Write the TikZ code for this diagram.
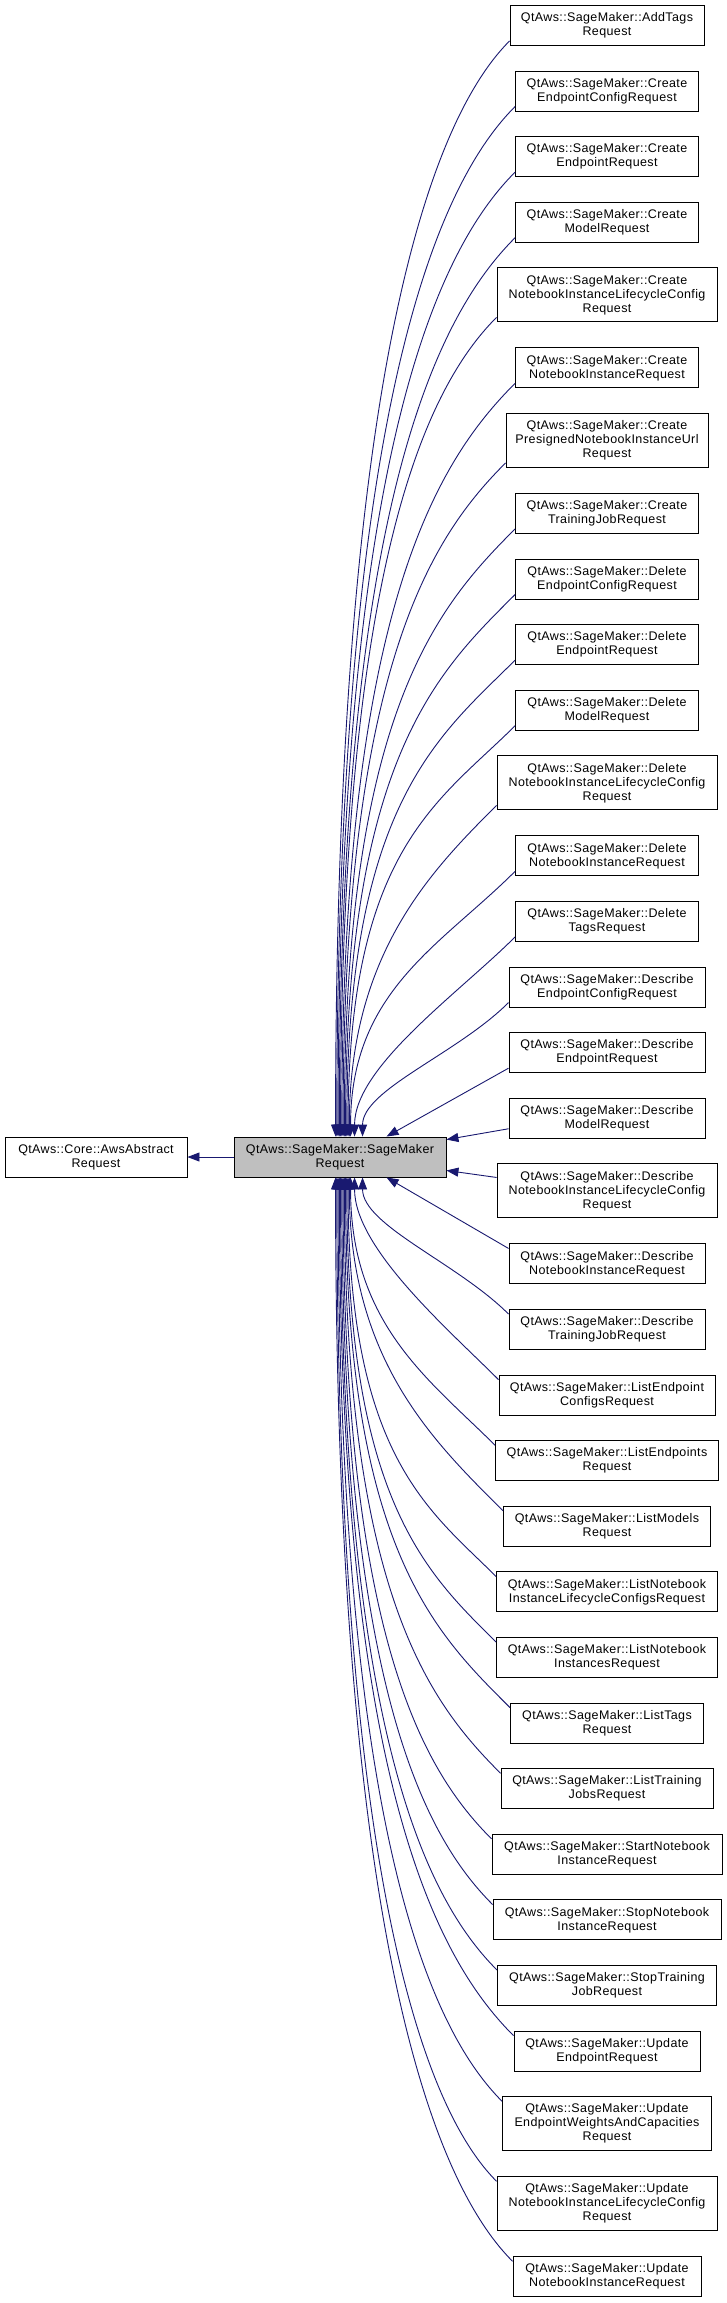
\documentclass[tikz,border=0pt]{standalone}
\usepackage{fontspec}
\setmainfont{Liberation Sans}[LetterSpace=3,Ligatures=NoCommon]
\usetikzlibrary{arrows.meta,calc}
\definecolor{edgecol}{HTML}{191970}
\definecolor{pfill}{HTML}{BFBFBF}
% #1 child, #2 offset on parent, #3 start-control factor, #4 end-control position
\newcommand\upe[4]{\draw[inh] let \p1=($(#1.south west)+(0,-5)$), \p2=($(P.north west)+(#2,0)$) in
  (\p1) .. controls ({\x1-#3*(\x1-\x2)}, {\y1-#3*(\x1-\x2)}) and (\x2, {\y1-#4*(\y1-\y2)}) .. (\p2);}
\newcommand\dne[4]{\draw[inh] let \p1=($(#1.north west)+(0,5)$), \p2=($(P.south west)+(#2,0)$) in
  (\p1) .. controls ({\x1-#3*(\x1-\x2)}, {\y1+#3*(\x1-\x2)}) and (\x2, {\y1-#4*(\y1-\y2)}) .. (\p2);}
\begin{document}
\begin{tikzpicture}[x=1pt,y=-1pt,
  box/.style={draw=black, line width=0.9pt, fill=white, align=center, inner sep=0pt,
    font=\fontsize{12.5}{14}\selectfont, minimum height=40pt},
  boxiii/.style={box, minimum height=54pt},
  inh/.style={draw=edgecol, line width=0.9pt, -{Triangle[length=12pt,width=9pt]}, fill=none}]
\useasboundingbox[fill=white] (0,0) rectangle (727,2303);

\node[box, fill=pfill, minimum width=212pt] (P) at (340,1157) {QtAws::SageMaker::SageMaker\\Request};
\node[box, minimum width=182pt] (B) at (96,1157) {QtAws::Core::AwsAbstract\\Request};

\node[box, minimum width=194pt] (c1) at (607,25.5) {QtAws::SageMaker::AddTags\\Request};
\node[box, minimum width=183pt] (c2) at (607,91.1) {QtAws::SageMaker::Create\\EndpointConfigRequest};
\node[box, minimum width=183pt] (c3) at (607,156.7) {QtAws::SageMaker::Create\\EndpointRequest};
\node[box, minimum width=183pt] (c4) at (607,222.3) {QtAws::SageMaker::Create\\ModelRequest};
\node[boxiii, minimum width=220pt] (c5) at (607,294.9) {QtAws::SageMaker::Create\\NotebookInstanceLifecycleConfig\\Request};
\node[box, minimum width=183pt] (c6) at (607,367.9) {QtAws::SageMaker::Create\\NotebookInstanceRequest};
\node[boxiii, minimum width=202pt] (c7) at (607,440.5) {QtAws::SageMaker::Create\\PresignedNotebookInstanceUrl\\Request};
\node[box, minimum width=183pt] (c8) at (607,513.5) {QtAws::SageMaker::Create\\TrainingJobRequest};
\node[box, minimum width=183pt] (c9) at (607,579.1) {QtAws::SageMaker::Delete\\EndpointConfigRequest};
\node[box, minimum width=183pt] (c10) at (607,644.7) {QtAws::SageMaker::Delete\\EndpointRequest};
\node[box, minimum width=183pt] (c11) at (607,710.3) {QtAws::SageMaker::Delete\\ModelRequest};
\node[boxiii, minimum width=220pt] (c12) at (607,782.9) {QtAws::SageMaker::Delete\\NotebookInstanceLifecycleConfig\\Request};
\node[box, minimum width=183pt] (c13) at (607,855.9) {QtAws::SageMaker::Delete\\NotebookInstanceRequest};
\node[box, minimum width=183pt] (c14) at (607,921.5) {QtAws::SageMaker::Delete\\TagsRequest};
\node[box, minimum width=196pt] (c15) at (607,987.1) {QtAws::SageMaker::Describe\\EndpointConfigRequest};
\node[box, minimum width=196pt] (c16) at (607,1052.7) {QtAws::SageMaker::Describe\\EndpointRequest};
\node[box, minimum width=196pt] (c17) at (607,1118.3) {QtAws::SageMaker::Describe\\ModelRequest};
\node[boxiii, minimum width=220pt] (c18) at (607,1190.9) {QtAws::SageMaker::Describe\\NotebookInstanceLifecycleConfig\\Request};
\node[box, minimum width=196pt] (c19) at (607,1263.9) {QtAws::SageMaker::Describe\\NotebookInstanceRequest};
\node[box, minimum width=196pt] (c20) at (607,1329.5) {QtAws::SageMaker::Describe\\TrainingJobRequest};
\node[box, minimum width=216pt] (c21) at (607,1395.1) {QtAws::SageMaker::ListEndpoint\\ConfigsRequest};
\node[box, minimum width=223pt] (c22) at (607,1460.7) {QtAws::SageMaker::ListEndpoints\\Request};
\node[box, minimum width=207pt] (c23) at (607,1526.3) {QtAws::SageMaker::ListModels\\Request};
\node[box, minimum width=221pt] (c24) at (607,1591.9) {QtAws::SageMaker::ListNotebook\\InstanceLifecycleConfigsRequest};
\node[box, minimum width=221pt] (c25) at (607,1657.5) {QtAws::SageMaker::ListNotebook\\InstancesRequest};
\node[box, minimum width=193pt] (c26) at (607,1723.1) {QtAws::SageMaker::ListTags\\Request};
\node[box, minimum width=212pt] (c27) at (607,1788.7) {QtAws::SageMaker::ListTraining\\JobsRequest};
\node[box, minimum width=230pt] (c28) at (607,1854.3) {QtAws::SageMaker::StartNotebook\\InstanceRequest};
\node[box, minimum width=228pt] (c29) at (607,1919.9) {QtAws::SageMaker::StopNotebook\\InstanceRequest};
\node[box, minimum width=219pt] (c30) at (607,1985.5) {QtAws::SageMaker::StopTraining\\JobRequest};
\node[box, minimum width=186pt] (c31) at (607,2051.1) {QtAws::SageMaker::Update\\EndpointRequest};
\node[boxiii, minimum width=209pt] (c32) at (607,2123.7) {QtAws::SageMaker::Update\\EndpointWeightsAndCapacities\\Request};
\node[boxiii, minimum width=220pt] (c33) at (607,2203.7) {QtAws::SageMaker::Update\\NotebookInstanceLifecycleConfig\\Request};
\node[box, minimum width=188pt] (c34) at (607,2276.7) {QtAws::SageMaker::Update\\NotebookInstanceRequest};

\draw[inh] (P.west) -- (B.east);
\foreach \c/\o in {c1/102,c2/103.25,c3/104.5,c4/105.75,c5/107,c6/108.25,c7/109.5,c8/110.75,c9/112,c10/113.25,c11/114.5}
  {\upe{\c}{\o}{0.45}{0.3}}
\upe{c12}{115.75}{0.45}{0.45}
\upe{c13}{117}{0.45}{0.45}
\upe{c14}{121}{0.35}{0.65}
\upe{c15}{129}{0.35}{0.65}
\draw[inh] ($(c16.south west)+(0,-5)$) -- ($(P.north west)+(153,0)$);
\draw[inh] ($(c19.north west)+(0,5)$) -- ($(P.south west)+(153,0)$);
\dne{c20}{129}{0.35}{0.65}
\dne{c21}{121}{0.35}{0.65}
\dne{c22}{117}{0.45}{0.45}
\dne{c23}{115.75}{0.45}{0.45}
\foreach \c/\o in {c24/114.5,c25/113.25,c26/112,c27/110.75,c28/109.5,c29/108.25,c30/107,c31/105.75,c32/104.5,c33/103.25,c34/102}
  {\dne{\c}{\o}{0.45}{0.3}}
\draw[inh] ($(c17.south west)+(0,-10)$) -- ($(P.north east)+(0,3)$);
\draw[inh] ($(c18.north west)+(0,14)$) -- ($(P.south east)+(0,-7)$);
\end{tikzpicture}
\end{document}
